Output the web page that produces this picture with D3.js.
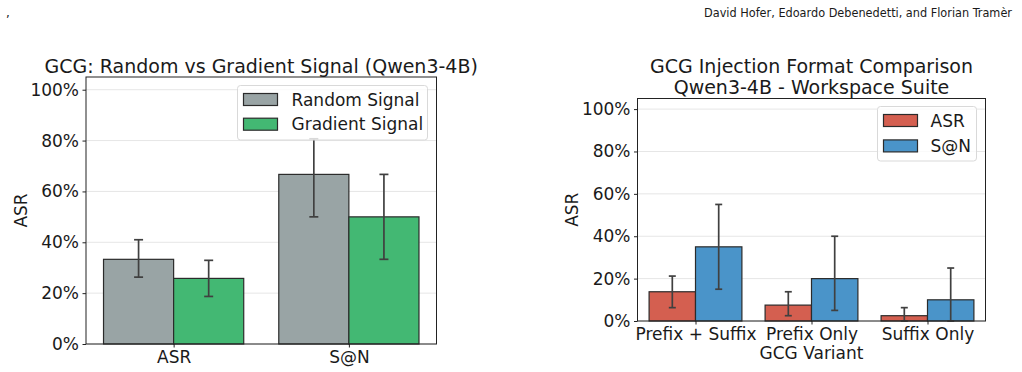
<!DOCTYPE html>
<html><head><meta charset="utf-8">
<script src="https://cdn.jsdelivr.net/npm/d3@7"></script>
<style>body{margin:0;background:#fff}svg{display:block}text{font-family:"DejaVu Sans",sans-serif;fill:#1a1a1a}</style>
</head><body>
<svg id="c" width="1022" height="372"></svg>
<script>
// ---- data ----
const leftCats = ["ASR", "S@N"];
const leftSeriesNames = ["Random Signal", "Gradient Signal"];
const randomVals = [0.333, 0.667];
const randomLo = [0.263, 0.500];
const randomHi = [0.410, 0.807];
const gradientVals = [0.258, 0.500];
const gradientLo = [0.187, 0.333];
const gradientHi = [0.329, 0.667];

const rightCats = ["Prefix + Suffix", "Prefix Only", "Suffix Only"];
const rightSeriesNames = ["ASR", "S@N"];
const asrVals = [0.138, 0.075, 0.025];
const asrLo = [0.063, 0.025, 0.000];
const asrHi = [0.212, 0.138, 0.063];
const sanVals = [0.350, 0.200, 0.100];
const sanLo = [0.150, 0.050, 0.000];
const sanHi = [0.550, 0.400, 0.250];

const yTicks = [0, 0.2, 0.4, 0.6, 0.8, 1.0];

const svg = d3.select("#c");

// header
svg.append("text").attr("x", 6).attr("y", 17).style("font-size", "12px").text(",");
svg.append("text").attr("x", 1012).attr("y", 17).attr("text-anchor", "end")
  .attr("textLength", 308).attr("lengthAdjust", "spacingAndGlyphs")
  .style("font-family", "'Liberation Sans Narrow','DejaVu Sans Condensed',sans-serif")
  .style("font-size", "12.5px").text("David Hofer, Edoardo Debenedetti, and Florian Tramèr");

function panel(o) {
  const g = svg.append("g");
  const x = d3.scaleLinear().domain([-0.5, o.cats.length - 0.5]).range([o.x0, o.x1]);
  const y = d3.scaleLinear().domain([0, 1.05]).range([o.y1, o.y0]);
  // grid
  g.selectAll(".grid").data(yTicks).join("line")
    .attr("x1", o.x0).attr("x2", o.x1).attr("y1", d => y(d)).attr("y2", d => y(d))
    .attr("stroke", "#e6e6e6").attr("stroke-width", 1);
  const bw = 0.4;
  o.series.forEach((s, si) => {
    const off = si === 0 ? -bw : 0;
    g.selectAll(null).data(s.vals).join("rect")
      .attr("x", (d, i) => x(i + off)).attr("width", x(bw) - x(0))
      .attr("y", d => y(d)).attr("height", d => y(0) - y(d))
      .attr("fill", s.color).attr("stroke", "#2b2b2b").attr("stroke-width", 1.2);
  });
  o.series.forEach((s, si) => {
    const off = si === 0 ? -bw / 2 : bw / 2;
    s.vals.forEach((v, i) => {
      const cx = x(i + off);
      g.append("line").attr("x1", cx).attr("x2", cx).attr("y1", y(s.lo[i])).attr("y2", y(s.hi[i]))
        .attr("stroke", "#404040").attr("stroke-width", 1.7);
      [s.lo[i], s.hi[i]].forEach(e => g.append("line").attr("x1", cx - o.cap).attr("x2", cx + o.cap)
        .attr("y1", y(e)).attr("y2", y(e)).attr("stroke", "#404040").attr("stroke-width", 1.7));
    });
  });
  // frame
  g.append("rect").attr("x", o.x0).attr("y", o.y0).attr("width", o.x1 - o.x0).attr("height", o.y1 - o.y0)
    .attr("fill", "none").attr("stroke", "#222").attr("stroke-width", 1);
  // y axis
  const ya = g.append("g").attr("transform", `translate(${o.x0},0)`)
    .call(d3.axisLeft(y).tickValues(yTicks).tickFormat(d => Math.round(d * 100) + "%").tickSizeOuter(0).tickSize(3.5).tickPadding(3.5));
  ya.select(".domain").remove();
  ya.selectAll("text").style("font-size", "17px").attr("fill", "#1a1a1a");
  ya.selectAll("line").attr("stroke", "#222");
  const xa = g.append("g").attr("transform", `translate(0,${o.y1})`)
    .call(d3.axisBottom(x).tickValues(d3.range(o.cats.length)).tickFormat(i => o.cats[i]).tickSizeOuter(0).tickSize(3.5).tickPadding(3));
  xa.select(".domain").remove();
  xa.selectAll("text").style("font-size", "17px").attr("fill", "#1a1a1a");
  xa.selectAll("line").attr("stroke", "#222");
  // y label
  g.append("text").attr("transform", `translate(${o.ylabX},${(o.y0 + o.y1) / 2}) rotate(-90)`)
    .attr("text-anchor", "middle").style("font-size", "17px").text("ASR");
  // titles
  o.title.forEach((t, i) => g.append("text").attr("x", (o.x0 + o.x1) / 2).attr("y", o.titleY + i * 21)
    .attr("text-anchor", "middle").style("font-size", "19px").text(t));
  if (o.xlabel) g.append("text").attr("x", (o.x0 + o.x1) / 2).attr("y", o.xlabelY)
    .attr("text-anchor", "middle").style("font-size", "17px").text(o.xlabel);
  // legend
  const L = o.legend;
  g.append("rect").attr("x", L.x).attr("y", L.y).attr("width", L.w).attr("height", L.h).attr("rx", 3)
    .attr("fill", "rgba(255,255,255,0.8)").attr("stroke", "#d9d9d9").attr("stroke-width", 1);
  o.series.forEach((s, si) => {
    const cy = L.y + L.first + si * L.step;
    g.append("rect").attr("x", L.x + 6).attr("y", cy - 6).attr("width", 34).attr("height", 12)
      .attr("fill", s.color).attr("stroke", "#2b2b2b").attr("stroke-width", 1.2);
    g.append("text").attr("x", L.x + L.tx).attr("y", cy + 6).style("font-size", "17px").text(s.name);
  });
}

panel({
  x0: 86, x1: 436.5, y0: 77, y1: 344, cap: 4.5, ylabX: 27,
  cats: leftCats, title: ["GCG: Random vs Gradient Signal (Qwen3-4B)"], titleY: 73,
  series: [
    { name: leftSeriesNames[0], vals: randomVals, lo: randomLo, hi: randomHi, color: "#99a4a5" },
    { name: leftSeriesNames[1], vals: gradientVals, lo: gradientLo, hi: gradientHi, color: "#43b873" }
  ],
  legend: { x: 237.5, y: 85.5, w: 190, h: 54.5, first: 14, step: 24.7, tx: 54 }
});

panel({
  x0: 637.5, x1: 985.5, y0: 98.5, y1: 321, cap: 3.5, ylabX: 578,
  cats: rightCats, title: ["GCG Injection Format Comparison", "Qwen3-4B - Workspace Suite"], titleY: 72.5,
  xlabel: "GCG Variant", xlabelY: 359,
  series: [
    { name: rightSeriesNames[0], vals: asrVals, lo: asrLo, hi: asrHi, color: "#d45f50" },
    { name: rightSeriesNames[1], vals: sanVals, lo: sanLo, hi: sanHi, color: "#4a94c9" }
  ],
  legend: { x: 877.5, y: 106.5, w: 99, h: 54.5, first: 14, step: 25.4, tx: 53 }
});
</script>
</body></html>
